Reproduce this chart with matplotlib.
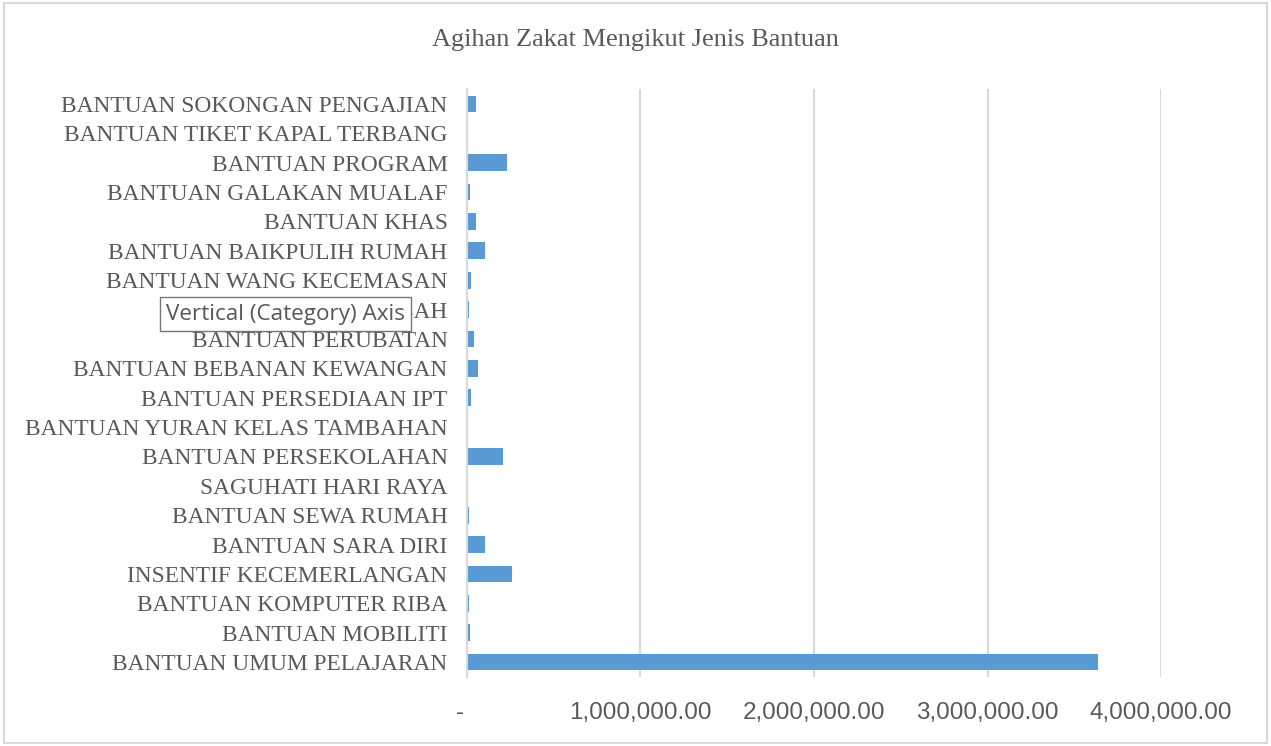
import matplotlib.pyplot as plt
from matplotlib.ticker import FuncFormatter, MultipleLocator
from matplotlib.patches import Rectangle

# data (top to bottom as in the chart)
categories = [
    'BANTUAN SOKONGAN PENGAJIAN',
    'BANTUAN TIKET KAPAL TERBANG',
    'BANTUAN PROGRAM',
    'BANTUAN GALAKAN MUALAF',
    'BANTUAN KHAS',
    'BANTUAN BAIKPULIH RUMAH',
    'BANTUAN WANG KECEMASAN',
    'BANTUAN MUSIBAH',
    'BANTUAN PERUBATAN',
    'BANTUAN BEBANAN KEWANGAN',
    'BANTUAN PERSEDIAAN IPT',
    'BANTUAN YURAN KELAS TAMBAHAN',
    'BANTUAN PERSEKOLAHAN',
    'SAGUHATI HARI RAYA',
    'BANTUAN SEWA RUMAH',
    'BANTUAN SARA DIRI',
    'INSENTIF KECEMERLANGAN',
    'BANTUAN KOMPUTER RIBA',
    'BANTUAN MOBILITI',
    'BANTUAN UMUM PELAJARAN',
]
amounts = [52000, 0, 229000, 20000, 52000, 102000, 26000, 10000, 40000, 62000,
           26000, 0, 210000, 0, 10000, 102000, 262000, 10000, 20000, 3637000]

title = 'Agihan Zakat Mengikut Jenis Bantuan'
grey = '#595959'
grid_c = '#d9d9d9'

fig = plt.figure(figsize=(12.71, 7.46), dpi=100)
ax = fig.add_axes([0.3674, 0.0929, 0.9135 - 0.3674, 0.8803 - 0.0929])

y = range(len(categories))
ax.barh(y, amounts, height=0.57, color='#5b9bd5', zorder=3)

ax.set_xlim(0, 4000000)
ax.set_ylim(len(categories) - 0.5, -0.5)
ax.xaxis.set_major_locator(MultipleLocator(1000000))
# accounting style: zero shown as a dash
ax.xaxis.set_major_formatter(FuncFormatter(lambda v, p: '-  ' if v == 0 else f'{v:,.2f}'))
ax.set_yticks(list(y))
ax.set_yticklabels(categories, family='Liberation Serif', fontsize=16.8, color=grey)
for lab in ax.get_xticklabels():
    lab.set_family('Liberation Sans')
ax.tick_params(axis='x', labelsize=17.5, labelcolor=grey, length=0, pad=18)
ax.tick_params(axis='y', length=0, pad=14)

ax.grid(axis='x', color=grid_c, linewidth=1.5, zorder=0)
for s in ['top', 'right', 'bottom']:
    ax.spines[s].set_visible(False)
ax.spines['left'].set_color(grid_c)
ax.spines['left'].set_linewidth(1.5)
ax.spines['left'].set_zorder(4)

fig.text(0.5, 1 - 40 / 746, title, ha='center', va='center',
         family='Liberation Serif', fontsize=19, color=grey)

# chart border
fig.patches.append(Rectangle((0.003, 0.004), 0.994, 0.992, transform=fig.transFigure,
                             fill=False, edgecolor=grid_c, linewidth=1.5))

# tooltip shown over the category axis
fig.text(166 / 1271, 1 - 314 / 746, 'Vertical (Category) Axis', ha='left', va='center',
         family='Open Sans', fontsize=16.2, color='#575757', zorder=10,
         bbox=dict(boxstyle='square,pad=0.28', facecolor='white', edgecolor='#767676',
                   linewidth=1))

fig.savefig('out.png', dpi=100)
